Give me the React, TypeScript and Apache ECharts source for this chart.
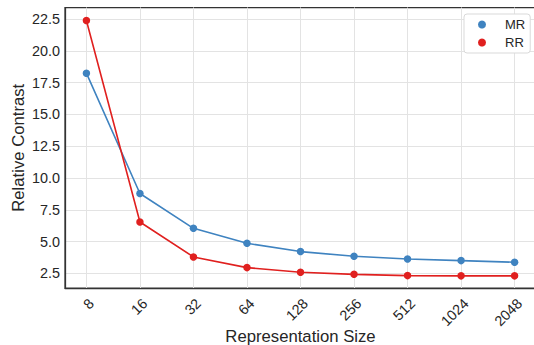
import React, { useEffect, useRef } from "react";
import * as echarts from "echarts";

// Representation sizes (x categories, evenly spaced on a log2 scale)
const sizes = ["8", "16", "32", "64", "128", "256", "512", "1024", "2048"];
// Relative contrast per representation size
const mrValues = [18.25, 8.78, 6.04, 4.86, 4.21, 3.84, 3.63, 3.5, 3.37];
const rrValues = [22.4, 6.54, 3.79, 2.95, 2.58, 2.42, 2.32, 2.3, 2.3];
// Y tick values
const yTicks = [2.5, 5, 7.5, 10, 12.5, 15, 17.5, 20, 22.5];

const MR_COLOR = "#3f83c0";
const RR_COLOR = "#e0201f";
const TEXT = "#262626";
const FONT = "Liberation Sans, Arial, sans-serif";

export default function App() {
  const ref = useRef<HTMLDivElement>(null);

  useEffect(() => {
    if (!ref.current) return;
    const chart = echarts.init(ref.current, undefined, { renderer: "svg" });
    const xIdx = sizes.map((_, i) => i);
    const toPairs = (vals: number[]) => vals.map((v, i) => [i, v]);

    chart.setOption({
      animation: false,
      backgroundColor: "#ffffff",
      textStyle: { fontFamily: FONT },
      grid: {
        left: 65,
        top: 7.5,
        width: 471,
        height: 280.5,
        show: true,
        borderColor: "#333333",
        borderWidth: 1.25,
        outerBoundsMode: "none",
      },
      legend: {
        orient: "vertical",
        left: 464,
        top: 14,
        padding: [4, 5, 4, 14],
        itemWidth: 8,
        itemHeight: 8,
        itemGap: 5,
        icon: "circle",
        backgroundColor: "#ffffff",
        borderColor: "#d9d9d9",
        borderWidth: 1,
        borderRadius: 3,
        textStyle: {
          fontFamily: FONT,
          fontSize: 13,
          color: TEXT,
          lineHeight: 13,
          padding: [0, 0, 0, 14],
        },
        data: ["MR", "RR"],
      },
      xAxis: {
        type: "value",
        min: -0.4,
        max: 8.4,
        name: "Representation Size",
        nameLocation: "middle",
        nameGap: 40,
        nameMoveOverlap: false,
        nameTextStyle: { fontFamily: FONT, fontSize: 16.7, color: TEXT },
        axisLine: { show: true, onZero: false, lineStyle: { color: "#333333", width: 1.25 } },
        axisTick: { show: false, customValues: xIdx },
        axisLabel: {
          customValues: xIdx,
          rotate: 45,
          align: "right",
          verticalAlign: "top",
          margin: 8,
          fontFamily: FONT,
          fontSize: 14.4,
          color: TEXT,
          formatter: (v: number) => sizes[Math.round(v)] ?? "",
        },
        splitLine: { show: true, lineStyle: { color: "#e3e3e3", width: 1 } },
      },
      yAxis: {
        type: "value",
        min: 1.344,
        max: 23.42,
        name: "Relative Contrast",
        nameLocation: "middle",
        nameGap: 38,
        nameMoveOverlap: false,
        nameTextStyle: { fontFamily: FONT, fontSize: 16.7, color: TEXT },
        axisLine: { show: true, onZero: false, lineStyle: { color: "#333333", width: 1.25 } },
        axisTick: { show: false, customValues: yTicks },
        axisLabel: {
          customValues: yTicks,
          margin: 5,
          fontFamily: FONT,
          fontSize: 14.4,
          color: TEXT,
          formatter: (v: number) => v.toFixed(1),
        },
        splitLine: { show: true, lineStyle: { color: "#e3e3e3", width: 1 } },
      },
      series: [
        {
          name: "MR",
          type: "line",
          data: toPairs(mrValues),
          symbol: "circle",
          symbolSize: 7.5,
          itemStyle: { color: MR_COLOR },
          lineStyle: { color: MR_COLOR, width: 1.6 },
        },
        {
          name: "RR",
          type: "line",
          data: toPairs(rrValues),
          symbol: "circle",
          symbolSize: 7.5,
          itemStyle: { color: RR_COLOR },
          lineStyle: { color: RR_COLOR, width: 1.6 },
        },
      ],
    });

    return () => chart.dispose();
  }, []);

  return (
    <div
      ref={ref}
      style={{ position: "fixed", left: 0, top: 0, width: 534, height: 345 }}
    />
  );
}
